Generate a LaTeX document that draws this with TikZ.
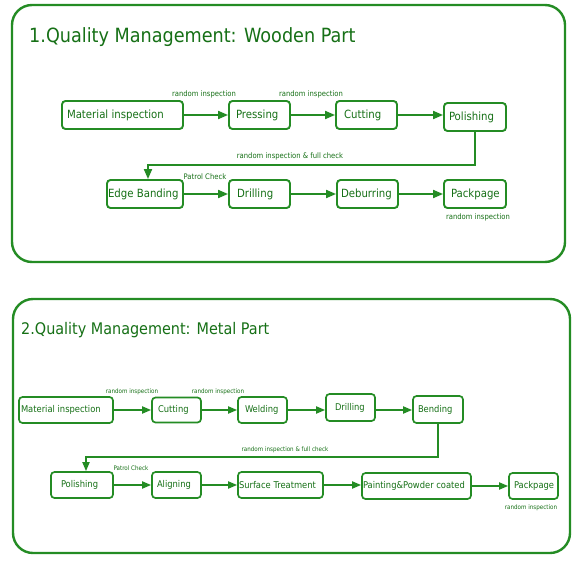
\documentclass[tikz,border=0pt]{standalone}
\usepackage{fontspec}
\setmainfont{DejaVu Sans Condensed}
\usetikzlibrary{arrows.meta}
\definecolor{lg}{RGB}{36,140,36}
\definecolor{tg}{RGB}{22,112,22}
\newcommand\qbox[8]{\node[qbox,minimum height=#5pt,#8] (#1) at (#2,#3) {\makebox[#4pt][l]{\hspace{#6pt}#7}};}
\begin{document}
\begin{tikzpicture}[x=1pt,y=-1pt,
  frame/.style={draw=lg,line width=2.4pt,rounded corners=20pt},
  qbox/.style={draw=lg,line width=1.9pt,rounded corners=3.5pt,inner sep=0pt,text=tg},
  big/.style={font=\fontsize{11.3}{13}\selectfont},
  small/.style={font=\fontsize{9.3}{11}\selectfont,line width=1.7pt},
  arr/.style={draw=lg,line width=1.9pt,-{Triangle[length=10pt,width=8pt]}},
  arrs/.style={draw=lg,line width=1.8pt,-{Triangle[length=9pt,width=7pt]}},
  lab/.style={text=tg,inner sep=0pt,font=\fontsize{7.6}{9}\selectfont},
  labs/.style={text=tg,inner sep=0pt,font=\fontsize{6.2}{7}\selectfont},
  ttl/.style={text=tg,inner sep=0pt,anchor=base west}]
\useasboundingbox[fill=white] (0,0) rectangle (583,562);
% ---------- Panel 1 ----------
\draw[frame] (12,5) rectangle (565,262);
\node[ttl,font=\fontsize{19.6}{22}\selectfont] (t1) at (29,42) {1.Quality Management: Wooden Part};
\qbox{mi1}{122.5}{115}{121}{28}{5}{Material inspection}{big}
\qbox{pr1}{259.5}{115}{61}{28}{7}{Pressing}{big}
\qbox{cu1}{366.5}{115}{61}{28}{8}{Cutting}{big}
\qbox{po1}{475}{117}{62}{28}{5}{Polishing}{big}
\qbox{eb1}{145}{194}{76}{28}{1}{Edge Banding}{big}
\qbox{dr1}{259.5}{194}{61}{28}{8}{Drilling}{big}
\qbox{de1}{367.5}{194}{61}{28}{4}{Deburring}{big}
\qbox{pa1}{475}{194}{62}{28}{7}{Packpage}{big}
\draw[arr] (mi1.east) -- (mi1.east -| pr1.west);
\draw[arr] (pr1.east) -- (pr1.east -| cu1.west);
\draw[arr] (cu1.east) -- (cu1.east -| po1.west);
\coordinate (k1) at (148,165);
\draw[arr] (po1.south) |- (k1) -- (k1 |- eb1.north);
\draw[arr] (eb1.east) -- (eb1.east -| dr1.west);
\draw[arr] (dr1.east) -- (dr1.east -| de1.west);
\draw[arr] (de1.east) -- (de1.east -| pa1.west);
\node[lab] (l1a) at (204,94) {random inspection};
\node[lab] (l1b) at (311,94) {random inspection};
\node[lab] (l1c) at (290,156) {random inspection \& full check};
\node[lab] (l1d) at (205,177) {Patrol Check};
\node[lab] (l1e) at (478,217) {random inspection};
% ---------- Panel 2 ----------
\draw[frame] (13,299) rectangle (570,553);
\node[ttl,font=\fontsize{16}{19}\selectfont] (t2) at (21,334) {2.Quality Management: Metal Part};
\qbox{mi2}{66}{410}{94}{26}{2}{Material inspection}{small}
\qbox{cu2}{176.5}{410}{49}{25}{6}{Cutting}{small}
\qbox{we2}{262.5}{410}{49}{26}{7}{Welding}{small}
\qbox{dr2}{350.5}{407.5}{49}{27}{9}{Drilling}{small}
\qbox{be2}{438}{409.5}{50}{27}{5}{Bending}{small}
\qbox{po2}{82}{485}{62}{26}{10}{Polishing}{small}
\qbox{al2}{176.5}{485}{49}{26}{5}{Aligning}{small}
\qbox{su2}{280.5}{485}{85}{26}{1}{Surface Treatment}{small}
\qbox{pt2}{416.5}{486}{109}{26}{1}{Painting\&Powder coated}{small}
\qbox{pk2}{533.5}{486}{49}{26}{5}{Packpage}{small}
\draw[arrs] (mi2.east) -- (mi2.east -| cu2.west);
\draw[arrs] (cu2.east) -- (cu2.east -| we2.west);
\draw[arrs] (we2.east) -- (we2.east -| dr2.west);
\draw[arrs] (we2.east -| dr2.east) -- (we2.east -| be2.west);
\coordinate (k2) at (86,457);
\draw[arrs] (be2.south) |- (k2) -- (k2 |- po2.north);
\draw[arrs] (po2.east) -- (po2.east -| al2.west);
\draw[arrs] (al2.east) -- (al2.east -| su2.west);
\draw[arrs] (su2.east) -- (su2.east -| pt2.west);
\draw[arrs] (pt2.east) -- (pt2.east -| pk2.west);
\node[labs] (l2a) at (132,392) {random inspection};
\node[labs] (l2b) at (218,392) {random inspection};
\node[labs] (l2c) at (285,450) {random inspection \& full check};
\node[labs] (l2d) at (131,468) {Patrol Check};
\node[labs] (l2e) at (531,508) {random inspection};
\end{tikzpicture}
\end{document}
